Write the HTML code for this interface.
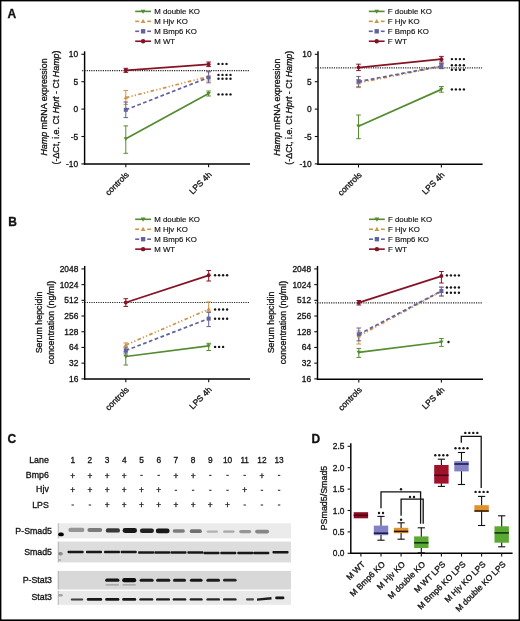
<!DOCTYPE html><html><head><meta charset="utf-8"><style>html,body{margin:0;padding:0;background:#fff}svg{display:block;will-change:transform;filter:blur(0.3px)}text{font-family:"Liberation Sans",sans-serif;stroke:#222;stroke-width:0.32px;paint-order:stroke}</style></head><body>
<svg width="520" height="621" viewBox="0 0 520 621">
<text x="7.6" y="17.8" font-size="12" text-anchor="start" font-weight="bold" fill="#111">A</text>
<text x="8.2" y="225.6" font-size="12" text-anchor="start" font-weight="bold" fill="#111">B</text>
<text x="7.6" y="443.2" font-size="12" text-anchor="start" font-weight="bold" fill="#111">C</text>
<text x="311.6" y="443" font-size="12" text-anchor="start" font-weight="bold" fill="#111">D</text>
<line x1="135.2" y1="11.4" x2="151" y2="11.4" stroke="#548c30" stroke-width="1.6" stroke-linecap="butt"/>
<path d="M140.68 9.64L145.52 9.64L143.1 13.82Z" fill="#548c30"/>
<text x="154.2" y="14.1" font-size="7.85" text-anchor="start" font-weight="normal" fill="#111" style="stroke-width:0.16px">M double KO</text>
<line x1="135.2" y1="21.35" x2="139.2" y2="21.35" stroke="#cf9446" stroke-width="1.6" stroke-linecap="butt"/>
<line x1="147.2" y1="21.35" x2="151" y2="21.35" stroke="#cf9446" stroke-width="1.6" stroke-linecap="butt"/>
<path d="M140.68 23.11L145.52 23.11L143.1 18.93Z" fill="#cf9446"/>
<text x="154.2" y="24.05" font-size="7.85" text-anchor="start" font-weight="normal" fill="#111" style="stroke-width:0.16px">M Hjv KO</text>
<line x1="135.2" y1="31.3" x2="139.2" y2="31.3" stroke="#62629e" stroke-width="1.6" stroke-linecap="butt"/>
<line x1="147.2" y1="31.3" x2="151" y2="31.3" stroke="#62629e" stroke-width="1.6" stroke-linecap="butt"/>
<rect x="140.9" y="29.1" width="4.4" height="4.4" fill="#62629e"/>
<text x="154.2" y="34" font-size="7.85" text-anchor="start" font-weight="normal" fill="#111" style="stroke-width:0.16px">M Bmp6 KO</text>
<line x1="135.2" y1="41.25" x2="151" y2="41.25" stroke="#861226" stroke-width="1.6" stroke-linecap="butt"/>
<circle cx="143.1" cy="41.25" r="2.2" fill="#861226"/>
<text x="154.2" y="43.95" font-size="7.85" text-anchor="start" font-weight="normal" fill="#111" style="stroke-width:0.16px">M WT</text>
<line x1="368.8" y1="11.4" x2="384.6" y2="11.4" stroke="#548c30" stroke-width="1.6" stroke-linecap="butt"/>
<path d="M374.28 9.64L379.12 9.64L376.7 13.82Z" fill="#548c30"/>
<text x="387.8" y="14.1" font-size="7.85" text-anchor="start" font-weight="normal" fill="#111" style="stroke-width:0.16px">F double KO</text>
<line x1="368.8" y1="21.35" x2="372.8" y2="21.35" stroke="#cf9446" stroke-width="1.6" stroke-linecap="butt"/>
<line x1="380.8" y1="21.35" x2="384.6" y2="21.35" stroke="#cf9446" stroke-width="1.6" stroke-linecap="butt"/>
<path d="M374.28 23.11L379.12 23.11L376.7 18.93Z" fill="#cf9446"/>
<text x="387.8" y="24.05" font-size="7.85" text-anchor="start" font-weight="normal" fill="#111" style="stroke-width:0.16px">F Hjv KO</text>
<line x1="368.8" y1="31.3" x2="372.8" y2="31.3" stroke="#62629e" stroke-width="1.6" stroke-linecap="butt"/>
<line x1="380.8" y1="31.3" x2="384.6" y2="31.3" stroke="#62629e" stroke-width="1.6" stroke-linecap="butt"/>
<rect x="374.5" y="29.1" width="4.4" height="4.4" fill="#62629e"/>
<text x="387.8" y="34" font-size="7.85" text-anchor="start" font-weight="normal" fill="#111" style="stroke-width:0.16px">F Bmp6 KO</text>
<line x1="368.8" y1="41.25" x2="384.6" y2="41.25" stroke="#861226" stroke-width="1.6" stroke-linecap="butt"/>
<circle cx="376.7" cy="41.25" r="2.2" fill="#861226"/>
<text x="387.8" y="43.95" font-size="7.85" text-anchor="start" font-weight="normal" fill="#111" style="stroke-width:0.16px">F WT</text>
<line x1="84.6" y1="51.3" x2="84.6" y2="164.7" stroke="#000" stroke-width="1.45" stroke-linecap="butt"/>
<line x1="83.9" y1="164" x2="250" y2="164" stroke="#000" stroke-width="1.45" stroke-linecap="butt"/>
<line x1="81.4" y1="54.3" x2="84.6" y2="54.3" stroke="#111" stroke-width="1.1" stroke-linecap="butt"/>
<text x="78.2" y="57.3" font-size="8.4" text-anchor="end" font-weight="normal" fill="#111">10</text>
<line x1="81.4" y1="81.7" x2="84.6" y2="81.7" stroke="#111" stroke-width="1.1" stroke-linecap="butt"/>
<text x="78.2" y="84.7" font-size="8.4" text-anchor="end" font-weight="normal" fill="#111">5</text>
<line x1="81.4" y1="109.1" x2="84.6" y2="109.1" stroke="#111" stroke-width="1.1" stroke-linecap="butt"/>
<text x="78.2" y="112.1" font-size="8.4" text-anchor="end" font-weight="normal" fill="#111">0</text>
<line x1="81.4" y1="136.5" x2="84.6" y2="136.5" stroke="#111" stroke-width="1.1" stroke-linecap="butt"/>
<text x="78.2" y="139.5" font-size="8.4" text-anchor="end" font-weight="normal" fill="#111">-5</text>
<line x1="81.4" y1="163.9" x2="84.6" y2="163.9" stroke="#111" stroke-width="1.1" stroke-linecap="butt"/>
<text x="78.2" y="166.9" font-size="8.4" text-anchor="end" font-weight="normal" fill="#111">-10</text>
<line x1="125.8" y1="164" x2="125.8" y2="167.2" stroke="#111" stroke-width="1.1" stroke-linecap="butt"/>
<line x1="208.6" y1="164" x2="208.6" y2="167.2" stroke="#111" stroke-width="1.1" stroke-linecap="butt"/>
<text x="129.4" y="175.2" font-size="8.4" text-anchor="end" font-weight="normal" transform="rotate(-45 129.4 175.2)" fill="#111">controls</text>
<text x="212.2" y="175.2" font-size="8.4" text-anchor="end" font-weight="normal" transform="rotate(-45 212.2 175.2)" fill="#111">LPS 4h</text>
<line x1="82.1" y1="70.6" x2="249.5" y2="70.6" stroke="#222" stroke-width="1.15" stroke-linecap="butt" stroke-dasharray="1.15 1.15"/>
<line x1="125.8" y1="125.9" x2="125.8" y2="153.3" stroke="#548c30" stroke-width="1" stroke-linecap="butt"/>
<line x1="123.5" y1="125.9" x2="128.1" y2="125.9" stroke="#548c30" stroke-width="1" stroke-linecap="butt"/>
<line x1="123.5" y1="153.3" x2="128.1" y2="153.3" stroke="#548c30" stroke-width="1" stroke-linecap="butt"/>
<line x1="208.6" y1="91" x2="208.6" y2="96" stroke="#548c30" stroke-width="1" stroke-linecap="butt"/>
<line x1="206.3" y1="91" x2="210.9" y2="91" stroke="#548c30" stroke-width="1" stroke-linecap="butt"/>
<line x1="206.3" y1="96" x2="210.9" y2="96" stroke="#548c30" stroke-width="1" stroke-linecap="butt"/>
<line x1="125.8" y1="90.5" x2="125.8" y2="104.4" stroke="#cf9446" stroke-width="1" stroke-linecap="butt"/>
<line x1="123.5" y1="90.5" x2="128.1" y2="90.5" stroke="#cf9446" stroke-width="1" stroke-linecap="butt"/>
<line x1="123.5" y1="104.4" x2="128.1" y2="104.4" stroke="#cf9446" stroke-width="1" stroke-linecap="butt"/>
<line x1="208.6" y1="72" x2="208.6" y2="81" stroke="#cf9446" stroke-width="1" stroke-linecap="butt"/>
<line x1="206.3" y1="72" x2="210.9" y2="72" stroke="#cf9446" stroke-width="1" stroke-linecap="butt"/>
<line x1="206.3" y1="81" x2="210.9" y2="81" stroke="#cf9446" stroke-width="1" stroke-linecap="butt"/>
<line x1="125.8" y1="102" x2="125.8" y2="117.6" stroke="#62629e" stroke-width="1" stroke-linecap="butt"/>
<line x1="123.5" y1="102" x2="128.1" y2="102" stroke="#62629e" stroke-width="1" stroke-linecap="butt"/>
<line x1="123.5" y1="117.6" x2="128.1" y2="117.6" stroke="#62629e" stroke-width="1" stroke-linecap="butt"/>
<line x1="208.6" y1="71.3" x2="208.6" y2="82.8" stroke="#62629e" stroke-width="1" stroke-linecap="butt"/>
<line x1="206.3" y1="71.3" x2="210.9" y2="71.3" stroke="#62629e" stroke-width="1" stroke-linecap="butt"/>
<line x1="206.3" y1="82.8" x2="210.9" y2="82.8" stroke="#62629e" stroke-width="1" stroke-linecap="butt"/>
<line x1="125.8" y1="68.3" x2="125.8" y2="72.4" stroke="#861226" stroke-width="1" stroke-linecap="butt"/>
<line x1="123.5" y1="68.3" x2="128.1" y2="68.3" stroke="#861226" stroke-width="1" stroke-linecap="butt"/>
<line x1="123.5" y1="72.4" x2="128.1" y2="72.4" stroke="#861226" stroke-width="1" stroke-linecap="butt"/>
<line x1="208.6" y1="62" x2="208.6" y2="66.6" stroke="#861226" stroke-width="1" stroke-linecap="butt"/>
<line x1="206.3" y1="62" x2="210.9" y2="62" stroke="#861226" stroke-width="1" stroke-linecap="butt"/>
<line x1="206.3" y1="66.6" x2="210.9" y2="66.6" stroke="#861226" stroke-width="1" stroke-linecap="butt"/>
<line x1="125.8" y1="138.8" x2="208.6" y2="93.5" stroke="#548c30" stroke-width="1.75" stroke-linecap="butt"/>
<path d="M123.6 137.2L128 137.2L125.8 141Z" fill="#548c30"/>
<path d="M206.4 91.9L210.8 91.9L208.6 95.7Z" fill="#548c30"/>
<line x1="125.8" y1="97.7" x2="208.6" y2="76.5" stroke="#cf9446" stroke-width="1.75" stroke-linecap="butt" stroke-dasharray="3.6 2.2 1.2 2.2 1.2 2.4"/>
<path d="M123.6 99.3L128 99.3L125.8 95.5Z" fill="#cf9446"/>
<path d="M206.4 78.1L210.8 78.1L208.6 74.3Z" fill="#cf9446"/>
<line x1="125.8" y1="109.8" x2="208.6" y2="77.5" stroke="#62629e" stroke-width="1.75" stroke-linecap="butt" stroke-dasharray="3.7 2.5"/>
<rect x="123.8" y="107.8" width="4" height="4" fill="#62629e"/>
<rect x="206.6" y="75.5" width="4" height="4" fill="#62629e"/>
<line x1="125.8" y1="70.3" x2="208.6" y2="64.3" stroke="#861226" stroke-width="1.75" stroke-linecap="butt"/>
<circle cx="125.8" cy="70.3" r="2" fill="#861226"/>
<circle cx="208.6" cy="64.3" r="2" fill="#861226"/>
<circle cx="218.5" cy="63.9" r="1.2" fill="#161616"/>
<circle cx="222.5" cy="63.9" r="1.2" fill="#161616"/>
<circle cx="226.5" cy="63.9" r="1.2" fill="#161616"/>
<circle cx="218.5" cy="74.9" r="1.2" fill="#161616"/>
<circle cx="222.5" cy="74.9" r="1.2" fill="#161616"/>
<circle cx="226.5" cy="74.9" r="1.2" fill="#161616"/>
<circle cx="230.5" cy="74.9" r="1.2" fill="#161616"/>
<circle cx="218.5" cy="78.8" r="1.2" fill="#161616"/>
<circle cx="222.5" cy="78.8" r="1.2" fill="#161616"/>
<circle cx="226.5" cy="78.8" r="1.2" fill="#161616"/>
<circle cx="230.5" cy="78.8" r="1.2" fill="#161616"/>
<circle cx="218.5" cy="94.4" r="1.2" fill="#161616"/>
<circle cx="222.5" cy="94.4" r="1.2" fill="#161616"/>
<circle cx="226.5" cy="94.4" r="1.2" fill="#161616"/>
<circle cx="230.5" cy="94.4" r="1.2" fill="#161616"/>
<text x="47.2" y="107" font-size="8.9" text-anchor="middle" transform="rotate(-90 47.2 107)" fill="#111"><tspan font-style="italic">Hamp</tspan> mRNA expression</text>
<text x="59.3" y="107.5" font-size="8.9" text-anchor="middle" font-weight="normal" transform="rotate(-90 59.3 107.5)" fill="#111">(-ΔCt, i.e. Ct <tspan font-style="italic">Hprt</tspan> - Ct <tspan font-style="italic">Hamp</tspan>)</text>
<line x1="318" y1="51.3" x2="318" y2="165" stroke="#000" stroke-width="1.45" stroke-linecap="butt"/>
<line x1="317.3" y1="164.3" x2="482.6" y2="164.3" stroke="#000" stroke-width="1.45" stroke-linecap="butt"/>
<line x1="314.8" y1="54.3" x2="318" y2="54.3" stroke="#111" stroke-width="1.1" stroke-linecap="butt"/>
<text x="311.6" y="57.3" font-size="8.4" text-anchor="end" font-weight="normal" fill="#111">10</text>
<line x1="314.8" y1="81.7" x2="318" y2="81.7" stroke="#111" stroke-width="1.1" stroke-linecap="butt"/>
<text x="311.6" y="84.7" font-size="8.4" text-anchor="end" font-weight="normal" fill="#111">5</text>
<line x1="314.8" y1="109.1" x2="318" y2="109.1" stroke="#111" stroke-width="1.1" stroke-linecap="butt"/>
<text x="311.6" y="112.1" font-size="8.4" text-anchor="end" font-weight="normal" fill="#111">0</text>
<line x1="314.8" y1="136.5" x2="318" y2="136.5" stroke="#111" stroke-width="1.1" stroke-linecap="butt"/>
<text x="311.6" y="139.5" font-size="8.4" text-anchor="end" font-weight="normal" fill="#111">-5</text>
<line x1="314.8" y1="163.9" x2="318" y2="163.9" stroke="#111" stroke-width="1.1" stroke-linecap="butt"/>
<text x="311.6" y="166.9" font-size="8.4" text-anchor="end" font-weight="normal" fill="#111">-10</text>
<line x1="358.5" y1="164.3" x2="358.5" y2="167.5" stroke="#111" stroke-width="1.1" stroke-linecap="butt"/>
<line x1="441.4" y1="164.3" x2="441.4" y2="167.5" stroke="#111" stroke-width="1.1" stroke-linecap="butt"/>
<text x="362.1" y="175.5" font-size="8.4" text-anchor="end" font-weight="normal" transform="rotate(-45 362.1 175.5)" fill="#111">controls</text>
<text x="445" y="175.5" font-size="8.4" text-anchor="end" font-weight="normal" transform="rotate(-45 445 175.5)" fill="#111">LPS 4h</text>
<line x1="315.5" y1="67.8" x2="482.1" y2="67.8" stroke="#222" stroke-width="1.15" stroke-linecap="butt" stroke-dasharray="1.15 1.15"/>
<line x1="358.5" y1="115" x2="358.5" y2="138.7" stroke="#548c30" stroke-width="1" stroke-linecap="butt"/>
<line x1="356.2" y1="115" x2="360.8" y2="115" stroke="#548c30" stroke-width="1" stroke-linecap="butt"/>
<line x1="356.2" y1="138.7" x2="360.8" y2="138.7" stroke="#548c30" stroke-width="1" stroke-linecap="butt"/>
<line x1="441.4" y1="86.5" x2="441.4" y2="92.2" stroke="#548c30" stroke-width="1" stroke-linecap="butt"/>
<line x1="439.1" y1="86.5" x2="443.7" y2="86.5" stroke="#548c30" stroke-width="1" stroke-linecap="butt"/>
<line x1="439.1" y1="92.2" x2="443.7" y2="92.2" stroke="#548c30" stroke-width="1" stroke-linecap="butt"/>
<line x1="358.5" y1="79.5" x2="358.5" y2="87.6" stroke="#cf9446" stroke-width="1" stroke-linecap="butt"/>
<line x1="356.2" y1="79.5" x2="360.8" y2="79.5" stroke="#cf9446" stroke-width="1" stroke-linecap="butt"/>
<line x1="356.2" y1="87.6" x2="360.8" y2="87.6" stroke="#cf9446" stroke-width="1" stroke-linecap="butt"/>
<line x1="441.4" y1="64" x2="441.4" y2="68.8" stroke="#cf9446" stroke-width="1" stroke-linecap="butt"/>
<line x1="439.1" y1="64" x2="443.7" y2="64" stroke="#cf9446" stroke-width="1" stroke-linecap="butt"/>
<line x1="439.1" y1="68.8" x2="443.7" y2="68.8" stroke="#cf9446" stroke-width="1" stroke-linecap="butt"/>
<line x1="358.5" y1="76.4" x2="358.5" y2="86.8" stroke="#62629e" stroke-width="1" stroke-linecap="butt"/>
<line x1="356.2" y1="76.4" x2="360.8" y2="76.4" stroke="#62629e" stroke-width="1" stroke-linecap="butt"/>
<line x1="356.2" y1="86.8" x2="360.8" y2="86.8" stroke="#62629e" stroke-width="1" stroke-linecap="butt"/>
<line x1="441.4" y1="63.5" x2="441.4" y2="68.5" stroke="#62629e" stroke-width="1" stroke-linecap="butt"/>
<line x1="439.1" y1="63.5" x2="443.7" y2="63.5" stroke="#62629e" stroke-width="1" stroke-linecap="butt"/>
<line x1="439.1" y1="68.5" x2="443.7" y2="68.5" stroke="#62629e" stroke-width="1" stroke-linecap="butt"/>
<line x1="358.5" y1="64.2" x2="358.5" y2="70.6" stroke="#861226" stroke-width="1" stroke-linecap="butt"/>
<line x1="356.2" y1="64.2" x2="360.8" y2="64.2" stroke="#861226" stroke-width="1" stroke-linecap="butt"/>
<line x1="356.2" y1="70.6" x2="360.8" y2="70.6" stroke="#861226" stroke-width="1" stroke-linecap="butt"/>
<line x1="441.4" y1="56.4" x2="441.4" y2="62" stroke="#861226" stroke-width="1" stroke-linecap="butt"/>
<line x1="439.1" y1="56.4" x2="443.7" y2="56.4" stroke="#861226" stroke-width="1" stroke-linecap="butt"/>
<line x1="439.1" y1="62" x2="443.7" y2="62" stroke="#861226" stroke-width="1" stroke-linecap="butt"/>
<line x1="358.5" y1="126.2" x2="441.4" y2="89.4" stroke="#548c30" stroke-width="1.75" stroke-linecap="butt"/>
<path d="M356.3 124.6L360.7 124.6L358.5 128.4Z" fill="#548c30"/>
<path d="M439.2 87.8L443.6 87.8L441.4 91.6Z" fill="#548c30"/>
<line x1="358.5" y1="82.8" x2="441.4" y2="66.4" stroke="#cf9446" stroke-width="1.75" stroke-linecap="butt" stroke-dasharray="3.6 2.2 1.2 2.2 1.2 2.4"/>
<path d="M356.3 84.4L360.7 84.4L358.5 80.6Z" fill="#cf9446"/>
<path d="M439.2 68L443.6 68L441.4 64.2Z" fill="#cf9446"/>
<line x1="358.5" y1="81.6" x2="441.4" y2="66.1" stroke="#62629e" stroke-width="1.75" stroke-linecap="butt" stroke-dasharray="3.7 2.5"/>
<rect x="356.5" y="79.6" width="4" height="4" fill="#62629e"/>
<rect x="439.4" y="64.1" width="4" height="4" fill="#62629e"/>
<line x1="358.5" y1="67.6" x2="441.4" y2="59.2" stroke="#861226" stroke-width="1.75" stroke-linecap="butt"/>
<circle cx="358.5" cy="67.6" r="2" fill="#861226"/>
<circle cx="441.4" cy="59.2" r="2" fill="#861226"/>
<circle cx="451.9" cy="59.1" r="1.2" fill="#161616"/>
<circle cx="455.9" cy="59.1" r="1.2" fill="#161616"/>
<circle cx="459.9" cy="59.1" r="1.2" fill="#161616"/>
<circle cx="463.9" cy="59.1" r="1.2" fill="#161616"/>
<circle cx="451.9" cy="65.2" r="1.2" fill="#161616"/>
<circle cx="455.9" cy="65.2" r="1.2" fill="#161616"/>
<circle cx="459.9" cy="65.2" r="1.2" fill="#161616"/>
<circle cx="463.9" cy="65.2" r="1.2" fill="#161616"/>
<circle cx="451.9" cy="69.7" r="1.2" fill="#161616"/>
<circle cx="455.9" cy="69.7" r="1.2" fill="#161616"/>
<circle cx="459.9" cy="69.7" r="1.2" fill="#161616"/>
<circle cx="463.9" cy="69.7" r="1.2" fill="#161616"/>
<circle cx="451.9" cy="89.4" r="1.2" fill="#161616"/>
<circle cx="455.9" cy="89.4" r="1.2" fill="#161616"/>
<circle cx="459.9" cy="89.4" r="1.2" fill="#161616"/>
<circle cx="463.9" cy="89.4" r="1.2" fill="#161616"/>
<text x="280.4" y="107.2" font-size="8.9" text-anchor="middle" transform="rotate(-90 280.4 107.2)" fill="#111"><tspan font-style="italic">Hamp</tspan> mRNA expression</text>
<text x="292.5" y="107.7" font-size="8.9" text-anchor="middle" font-weight="normal" transform="rotate(-90 292.5 107.7)" fill="#111">(-ΔCt, i.e. Ct <tspan font-style="italic">Hprt</tspan> - Ct <tspan font-style="italic">Hamp</tspan>)</text>
<line x1="135.2" y1="219.3" x2="151" y2="219.3" stroke="#548c30" stroke-width="1.6" stroke-linecap="butt"/>
<path d="M140.68 217.54L145.52 217.54L143.1 221.72Z" fill="#548c30"/>
<text x="154.2" y="222" font-size="7.85" text-anchor="start" font-weight="normal" fill="#111" style="stroke-width:0.16px">M double KO</text>
<line x1="135.2" y1="229.25" x2="139.2" y2="229.25" stroke="#cf9446" stroke-width="1.6" stroke-linecap="butt"/>
<line x1="147.2" y1="229.25" x2="151" y2="229.25" stroke="#cf9446" stroke-width="1.6" stroke-linecap="butt"/>
<path d="M140.68 231.01L145.52 231.01L143.1 226.83Z" fill="#cf9446"/>
<text x="154.2" y="231.95" font-size="7.85" text-anchor="start" font-weight="normal" fill="#111" style="stroke-width:0.16px">M Hjv KO</text>
<line x1="135.2" y1="239.2" x2="139.2" y2="239.2" stroke="#62629e" stroke-width="1.6" stroke-linecap="butt"/>
<line x1="147.2" y1="239.2" x2="151" y2="239.2" stroke="#62629e" stroke-width="1.6" stroke-linecap="butt"/>
<rect x="140.9" y="237" width="4.4" height="4.4" fill="#62629e"/>
<text x="154.2" y="241.9" font-size="7.85" text-anchor="start" font-weight="normal" fill="#111" style="stroke-width:0.16px">M Bmp6 KO</text>
<line x1="135.2" y1="249.15" x2="151" y2="249.15" stroke="#861226" stroke-width="1.6" stroke-linecap="butt"/>
<circle cx="143.1" cy="249.15" r="2.2" fill="#861226"/>
<text x="154.2" y="251.85" font-size="7.85" text-anchor="start" font-weight="normal" fill="#111" style="stroke-width:0.16px">M WT</text>
<line x1="369" y1="219.3" x2="384.8" y2="219.3" stroke="#548c30" stroke-width="1.6" stroke-linecap="butt"/>
<path d="M374.48 217.54L379.32 217.54L376.9 221.72Z" fill="#548c30"/>
<text x="388" y="222" font-size="7.85" text-anchor="start" font-weight="normal" fill="#111" style="stroke-width:0.16px">F double KO</text>
<line x1="369" y1="229.25" x2="373" y2="229.25" stroke="#cf9446" stroke-width="1.6" stroke-linecap="butt"/>
<line x1="381" y1="229.25" x2="384.8" y2="229.25" stroke="#cf9446" stroke-width="1.6" stroke-linecap="butt"/>
<path d="M374.48 231.01L379.32 231.01L376.9 226.83Z" fill="#cf9446"/>
<text x="388" y="231.95" font-size="7.85" text-anchor="start" font-weight="normal" fill="#111" style="stroke-width:0.16px">F Hjv KO</text>
<line x1="369" y1="239.2" x2="373" y2="239.2" stroke="#62629e" stroke-width="1.6" stroke-linecap="butt"/>
<line x1="381" y1="239.2" x2="384.8" y2="239.2" stroke="#62629e" stroke-width="1.6" stroke-linecap="butt"/>
<rect x="374.7" y="237" width="4.4" height="4.4" fill="#62629e"/>
<text x="388" y="241.9" font-size="7.85" text-anchor="start" font-weight="normal" fill="#111" style="stroke-width:0.16px">F Bmp6 KO</text>
<line x1="369" y1="249.15" x2="384.8" y2="249.15" stroke="#861226" stroke-width="1.6" stroke-linecap="butt"/>
<circle cx="376.9" cy="249.15" r="2.2" fill="#861226"/>
<text x="388" y="251.85" font-size="7.85" text-anchor="start" font-weight="normal" fill="#111" style="stroke-width:0.16px">F WT</text>
<line x1="84.7" y1="265.9" x2="84.7" y2="379.7" stroke="#000" stroke-width="1.45" stroke-linecap="butt"/>
<line x1="84" y1="379" x2="250" y2="379" stroke="#000" stroke-width="1.45" stroke-linecap="butt"/>
<line x1="81.5" y1="268.9" x2="84.7" y2="268.9" stroke="#111" stroke-width="1.1" stroke-linecap="butt"/>
<text x="78.3" y="271.9" font-size="8.4" text-anchor="end" font-weight="normal" fill="#111">2048</text>
<line x1="81.5" y1="284.61" x2="84.7" y2="284.61" stroke="#111" stroke-width="1.1" stroke-linecap="butt"/>
<text x="78.3" y="287.61" font-size="8.4" text-anchor="end" font-weight="normal" fill="#111">1024</text>
<line x1="81.5" y1="300.32" x2="84.7" y2="300.32" stroke="#111" stroke-width="1.1" stroke-linecap="butt"/>
<text x="78.3" y="303.32" font-size="8.4" text-anchor="end" font-weight="normal" fill="#111">512</text>
<line x1="81.5" y1="316.03" x2="84.7" y2="316.03" stroke="#111" stroke-width="1.1" stroke-linecap="butt"/>
<text x="78.3" y="319.03" font-size="8.4" text-anchor="end" font-weight="normal" fill="#111">256</text>
<line x1="81.5" y1="331.74" x2="84.7" y2="331.74" stroke="#111" stroke-width="1.1" stroke-linecap="butt"/>
<text x="78.3" y="334.74" font-size="8.4" text-anchor="end" font-weight="normal" fill="#111">128</text>
<line x1="81.5" y1="347.45" x2="84.7" y2="347.45" stroke="#111" stroke-width="1.1" stroke-linecap="butt"/>
<text x="78.3" y="350.45" font-size="8.4" text-anchor="end" font-weight="normal" fill="#111">64</text>
<line x1="81.5" y1="363.16" x2="84.7" y2="363.16" stroke="#111" stroke-width="1.1" stroke-linecap="butt"/>
<text x="78.3" y="366.16" font-size="8.4" text-anchor="end" font-weight="normal" fill="#111">32</text>
<line x1="81.5" y1="378.87" x2="84.7" y2="378.87" stroke="#111" stroke-width="1.1" stroke-linecap="butt"/>
<text x="78.3" y="381.87" font-size="8.4" text-anchor="end" font-weight="normal" fill="#111">16</text>
<line x1="125.8" y1="379" x2="125.8" y2="382.2" stroke="#111" stroke-width="1.1" stroke-linecap="butt"/>
<line x1="208.7" y1="379" x2="208.7" y2="382.2" stroke="#111" stroke-width="1.1" stroke-linecap="butt"/>
<text x="129.4" y="390.2" font-size="8.4" text-anchor="end" font-weight="normal" transform="rotate(-45 129.4 390.2)" fill="#111">controls</text>
<text x="212.3" y="390.2" font-size="8.4" text-anchor="end" font-weight="normal" transform="rotate(-45 212.3 390.2)" fill="#111">LPS 4h</text>
<line x1="82.2" y1="302.5" x2="249.5" y2="302.5" stroke="#222" stroke-width="1.15" stroke-linecap="butt" stroke-dasharray="1.15 1.15"/>
<line x1="125.8" y1="352" x2="125.8" y2="365" stroke="#548c30" stroke-width="1" stroke-linecap="butt"/>
<line x1="123.5" y1="352" x2="128.1" y2="352" stroke="#548c30" stroke-width="1" stroke-linecap="butt"/>
<line x1="123.5" y1="365" x2="128.1" y2="365" stroke="#548c30" stroke-width="1" stroke-linecap="butt"/>
<line x1="208.7" y1="343.3" x2="208.7" y2="350.5" stroke="#548c30" stroke-width="1" stroke-linecap="butt"/>
<line x1="206.4" y1="343.3" x2="211" y2="343.3" stroke="#548c30" stroke-width="1" stroke-linecap="butt"/>
<line x1="206.4" y1="350.5" x2="211" y2="350.5" stroke="#548c30" stroke-width="1" stroke-linecap="butt"/>
<line x1="125.8" y1="342.9" x2="125.8" y2="348" stroke="#cf9446" stroke-width="1" stroke-linecap="butt"/>
<line x1="123.5" y1="342.9" x2="128.1" y2="342.9" stroke="#cf9446" stroke-width="1" stroke-linecap="butt"/>
<line x1="123.5" y1="348" x2="128.1" y2="348" stroke="#cf9446" stroke-width="1" stroke-linecap="butt"/>
<line x1="208.7" y1="301.9" x2="208.7" y2="311.3" stroke="#cf9446" stroke-width="1" stroke-linecap="butt"/>
<line x1="206.4" y1="301.9" x2="211" y2="301.9" stroke="#cf9446" stroke-width="1" stroke-linecap="butt"/>
<line x1="206.4" y1="311.3" x2="211" y2="311.3" stroke="#cf9446" stroke-width="1" stroke-linecap="butt"/>
<line x1="125.8" y1="347" x2="125.8" y2="354" stroke="#62629e" stroke-width="1" stroke-linecap="butt"/>
<line x1="123.5" y1="347" x2="128.1" y2="347" stroke="#62629e" stroke-width="1" stroke-linecap="butt"/>
<line x1="123.5" y1="354" x2="128.1" y2="354" stroke="#62629e" stroke-width="1" stroke-linecap="butt"/>
<line x1="208.7" y1="312.4" x2="208.7" y2="326.6" stroke="#62629e" stroke-width="1" stroke-linecap="butt"/>
<line x1="206.4" y1="312.4" x2="211" y2="312.4" stroke="#62629e" stroke-width="1" stroke-linecap="butt"/>
<line x1="206.4" y1="326.6" x2="211" y2="326.6" stroke="#62629e" stroke-width="1" stroke-linecap="butt"/>
<line x1="125.8" y1="298.7" x2="125.8" y2="306.4" stroke="#861226" stroke-width="1" stroke-linecap="butt"/>
<line x1="123.5" y1="298.7" x2="128.1" y2="298.7" stroke="#861226" stroke-width="1" stroke-linecap="butt"/>
<line x1="123.5" y1="306.4" x2="128.1" y2="306.4" stroke="#861226" stroke-width="1" stroke-linecap="butt"/>
<line x1="208.7" y1="270.5" x2="208.7" y2="281" stroke="#861226" stroke-width="1" stroke-linecap="butt"/>
<line x1="206.4" y1="270.5" x2="211" y2="270.5" stroke="#861226" stroke-width="1" stroke-linecap="butt"/>
<line x1="206.4" y1="281" x2="211" y2="281" stroke="#861226" stroke-width="1" stroke-linecap="butt"/>
<line x1="125.8" y1="356.5" x2="208.7" y2="345.9" stroke="#548c30" stroke-width="1.75" stroke-linecap="butt"/>
<path d="M123.6 354.9L128 354.9L125.8 358.7Z" fill="#548c30"/>
<path d="M206.5 344.3L210.9 344.3L208.7 348.1Z" fill="#548c30"/>
<line x1="125.8" y1="345" x2="208.7" y2="309.2" stroke="#cf9446" stroke-width="1.75" stroke-linecap="butt" stroke-dasharray="3.6 2.2 1.2 2.2 1.2 2.4"/>
<path d="M123.6 346.6L128 346.6L125.8 342.8Z" fill="#cf9446"/>
<path d="M206.5 310.8L210.9 310.8L208.7 307Z" fill="#cf9446"/>
<line x1="125.8" y1="350.5" x2="208.7" y2="318.6" stroke="#62629e" stroke-width="1.75" stroke-linecap="butt" stroke-dasharray="3.7 2.5"/>
<rect x="123.8" y="348.5" width="4" height="4" fill="#62629e"/>
<rect x="206.7" y="316.6" width="4" height="4" fill="#62629e"/>
<line x1="125.8" y1="302.5" x2="208.7" y2="275.3" stroke="#861226" stroke-width="1.75" stroke-linecap="butt"/>
<circle cx="125.8" cy="302.5" r="2" fill="#861226"/>
<circle cx="208.7" cy="275.3" r="2" fill="#861226"/>
<circle cx="215.1" cy="275.3" r="1.2" fill="#161616"/>
<circle cx="219.1" cy="275.3" r="1.2" fill="#161616"/>
<circle cx="223.1" cy="275.3" r="1.2" fill="#161616"/>
<circle cx="227.1" cy="275.3" r="1.2" fill="#161616"/>
<circle cx="215.1" cy="309.5" r="1.2" fill="#161616"/>
<circle cx="219.1" cy="309.5" r="1.2" fill="#161616"/>
<circle cx="223.1" cy="309.5" r="1.2" fill="#161616"/>
<circle cx="227.1" cy="309.5" r="1.2" fill="#161616"/>
<circle cx="215.1" cy="318.8" r="1.2" fill="#161616"/>
<circle cx="219.1" cy="318.8" r="1.2" fill="#161616"/>
<circle cx="223.1" cy="318.8" r="1.2" fill="#161616"/>
<circle cx="227.1" cy="318.8" r="1.2" fill="#161616"/>
<circle cx="215.1" cy="346.9" r="1.2" fill="#161616"/>
<circle cx="219.1" cy="346.9" r="1.2" fill="#161616"/>
<circle cx="223.1" cy="346.9" r="1.2" fill="#161616"/>
<text x="41.6" y="322.5" font-size="8.9" text-anchor="middle" font-weight="normal" transform="rotate(-90 41.6 322.5)" fill="#111">Serum hepcidin</text>
<text x="53.5" y="322.5" font-size="8.9" text-anchor="middle" font-weight="normal" transform="rotate(-90 53.5 322.5)" fill="#111">concentration (ng/ml)</text>
<line x1="317.5" y1="265.9" x2="317.5" y2="379.9" stroke="#000" stroke-width="1.45" stroke-linecap="butt"/>
<line x1="316.8" y1="379.2" x2="483" y2="379.2" stroke="#000" stroke-width="1.45" stroke-linecap="butt"/>
<line x1="314.3" y1="268.9" x2="317.5" y2="268.9" stroke="#111" stroke-width="1.1" stroke-linecap="butt"/>
<text x="311.1" y="271.9" font-size="8.4" text-anchor="end" font-weight="normal" fill="#111">2048</text>
<line x1="314.3" y1="284.61" x2="317.5" y2="284.61" stroke="#111" stroke-width="1.1" stroke-linecap="butt"/>
<text x="311.1" y="287.61" font-size="8.4" text-anchor="end" font-weight="normal" fill="#111">1024</text>
<line x1="314.3" y1="300.32" x2="317.5" y2="300.32" stroke="#111" stroke-width="1.1" stroke-linecap="butt"/>
<text x="311.1" y="303.32" font-size="8.4" text-anchor="end" font-weight="normal" fill="#111">512</text>
<line x1="314.3" y1="316.03" x2="317.5" y2="316.03" stroke="#111" stroke-width="1.1" stroke-linecap="butt"/>
<text x="311.1" y="319.03" font-size="8.4" text-anchor="end" font-weight="normal" fill="#111">256</text>
<line x1="314.3" y1="331.74" x2="317.5" y2="331.74" stroke="#111" stroke-width="1.1" stroke-linecap="butt"/>
<text x="311.1" y="334.74" font-size="8.4" text-anchor="end" font-weight="normal" fill="#111">128</text>
<line x1="314.3" y1="347.45" x2="317.5" y2="347.45" stroke="#111" stroke-width="1.1" stroke-linecap="butt"/>
<text x="311.1" y="350.45" font-size="8.4" text-anchor="end" font-weight="normal" fill="#111">64</text>
<line x1="314.3" y1="363.16" x2="317.5" y2="363.16" stroke="#111" stroke-width="1.1" stroke-linecap="butt"/>
<text x="311.1" y="366.16" font-size="8.4" text-anchor="end" font-weight="normal" fill="#111">32</text>
<line x1="314.3" y1="378.87" x2="317.5" y2="378.87" stroke="#111" stroke-width="1.1" stroke-linecap="butt"/>
<text x="311.1" y="381.87" font-size="8.4" text-anchor="end" font-weight="normal" fill="#111">16</text>
<line x1="358.8" y1="379.2" x2="358.8" y2="382.4" stroke="#111" stroke-width="1.1" stroke-linecap="butt"/>
<line x1="441.4" y1="379.2" x2="441.4" y2="382.4" stroke="#111" stroke-width="1.1" stroke-linecap="butt"/>
<text x="362.4" y="390.4" font-size="8.4" text-anchor="end" font-weight="normal" transform="rotate(-45 362.4 390.4)" fill="#111">controls</text>
<text x="445" y="390.4" font-size="8.4" text-anchor="end" font-weight="normal" transform="rotate(-45 445 390.4)" fill="#111">LPS 4h</text>
<line x1="315" y1="302.9" x2="482.5" y2="302.9" stroke="#222" stroke-width="1.15" stroke-linecap="butt" stroke-dasharray="1.15 1.15"/>
<line x1="358.8" y1="348.4" x2="358.8" y2="357.4" stroke="#548c30" stroke-width="1" stroke-linecap="butt"/>
<line x1="356.5" y1="348.4" x2="361.1" y2="348.4" stroke="#548c30" stroke-width="1" stroke-linecap="butt"/>
<line x1="356.5" y1="357.4" x2="361.1" y2="357.4" stroke="#548c30" stroke-width="1" stroke-linecap="butt"/>
<line x1="441.4" y1="338.5" x2="441.4" y2="346.4" stroke="#548c30" stroke-width="1" stroke-linecap="butt"/>
<line x1="439.1" y1="338.5" x2="443.7" y2="338.5" stroke="#548c30" stroke-width="1" stroke-linecap="butt"/>
<line x1="439.1" y1="346.4" x2="443.7" y2="346.4" stroke="#548c30" stroke-width="1" stroke-linecap="butt"/>
<line x1="358.8" y1="331" x2="358.8" y2="344" stroke="#cf9446" stroke-width="1" stroke-linecap="butt"/>
<line x1="356.5" y1="331" x2="361.1" y2="331" stroke="#cf9446" stroke-width="1" stroke-linecap="butt"/>
<line x1="356.5" y1="344" x2="361.1" y2="344" stroke="#cf9446" stroke-width="1" stroke-linecap="butt"/>
<line x1="441.4" y1="287" x2="441.4" y2="296" stroke="#cf9446" stroke-width="1" stroke-linecap="butt"/>
<line x1="439.1" y1="287" x2="443.7" y2="287" stroke="#cf9446" stroke-width="1" stroke-linecap="butt"/>
<line x1="439.1" y1="296" x2="443.7" y2="296" stroke="#cf9446" stroke-width="1" stroke-linecap="butt"/>
<line x1="358.8" y1="328" x2="358.8" y2="340.8" stroke="#62629e" stroke-width="1" stroke-linecap="butt"/>
<line x1="356.5" y1="328" x2="361.1" y2="328" stroke="#62629e" stroke-width="1" stroke-linecap="butt"/>
<line x1="356.5" y1="340.8" x2="361.1" y2="340.8" stroke="#62629e" stroke-width="1" stroke-linecap="butt"/>
<line x1="441.4" y1="287.2" x2="441.4" y2="296" stroke="#62629e" stroke-width="1" stroke-linecap="butt"/>
<line x1="439.1" y1="287.2" x2="443.7" y2="287.2" stroke="#62629e" stroke-width="1" stroke-linecap="butt"/>
<line x1="439.1" y1="296" x2="443.7" y2="296" stroke="#62629e" stroke-width="1" stroke-linecap="butt"/>
<line x1="358.8" y1="300.5" x2="358.8" y2="305" stroke="#861226" stroke-width="1" stroke-linecap="butt"/>
<line x1="356.5" y1="300.5" x2="361.1" y2="300.5" stroke="#861226" stroke-width="1" stroke-linecap="butt"/>
<line x1="356.5" y1="305" x2="361.1" y2="305" stroke="#861226" stroke-width="1" stroke-linecap="butt"/>
<line x1="441.4" y1="271.5" x2="441.4" y2="283" stroke="#861226" stroke-width="1" stroke-linecap="butt"/>
<line x1="439.1" y1="271.5" x2="443.7" y2="271.5" stroke="#861226" stroke-width="1" stroke-linecap="butt"/>
<line x1="439.1" y1="283" x2="443.7" y2="283" stroke="#861226" stroke-width="1" stroke-linecap="butt"/>
<line x1="358.8" y1="352.3" x2="441.4" y2="342" stroke="#548c30" stroke-width="1.75" stroke-linecap="butt"/>
<path d="M356.6 350.7L361 350.7L358.8 354.5Z" fill="#548c30"/>
<path d="M439.2 340.4L443.6 340.4L441.4 344.2Z" fill="#548c30"/>
<line x1="358.8" y1="336" x2="441.4" y2="291.4" stroke="#cf9446" stroke-width="1.75" stroke-linecap="butt" stroke-dasharray="3.6 2.2 1.2 2.2 1.2 2.4"/>
<path d="M356.6 337.6L361 337.6L358.8 333.8Z" fill="#cf9446"/>
<path d="M439.2 293L443.6 293L441.4 289.2Z" fill="#cf9446"/>
<line x1="358.8" y1="334.3" x2="441.4" y2="291" stroke="#62629e" stroke-width="1.75" stroke-linecap="butt" stroke-dasharray="3.7 2.5"/>
<rect x="356.8" y="332.3" width="4" height="4" fill="#62629e"/>
<rect x="439.4" y="289" width="4" height="4" fill="#62629e"/>
<line x1="358.8" y1="302.7" x2="441.4" y2="276.1" stroke="#861226" stroke-width="1.75" stroke-linecap="butt"/>
<circle cx="358.8" cy="302.7" r="2" fill="#861226"/>
<circle cx="441.4" cy="276.1" r="2" fill="#861226"/>
<circle cx="446.9" cy="275.4" r="1.2" fill="#161616"/>
<circle cx="450.9" cy="275.4" r="1.2" fill="#161616"/>
<circle cx="454.9" cy="275.4" r="1.2" fill="#161616"/>
<circle cx="458.9" cy="275.4" r="1.2" fill="#161616"/>
<circle cx="446.9" cy="287.5" r="1.2" fill="#161616"/>
<circle cx="450.9" cy="287.5" r="1.2" fill="#161616"/>
<circle cx="454.9" cy="287.5" r="1.2" fill="#161616"/>
<circle cx="458.9" cy="287.5" r="1.2" fill="#161616"/>
<circle cx="446.9" cy="292.8" r="1.2" fill="#161616"/>
<circle cx="450.9" cy="292.8" r="1.2" fill="#161616"/>
<circle cx="454.9" cy="292.8" r="1.2" fill="#161616"/>
<circle cx="458.9" cy="292.8" r="1.2" fill="#161616"/>
<circle cx="448.5" cy="342" r="1.2" fill="#161616"/>
<text x="274.3" y="322.5" font-size="8.9" text-anchor="middle" font-weight="normal" transform="rotate(-90 274.3 322.5)" fill="#111">Serum hepcidin</text>
<text x="286.3" y="322.5" font-size="8.9" text-anchor="middle" font-weight="normal" transform="rotate(-90 286.3 322.5)" fill="#111">concentration (ng/ml)</text>
<text x="48.8" y="463.1" font-size="8.8" text-anchor="end" font-weight="normal" fill="#111">Lane</text>
<text x="48.8" y="477.7" font-size="8.8" text-anchor="end" font-weight="normal" fill="#111">Bmp6</text>
<text x="48.8" y="492.4" font-size="8.8" text-anchor="end" font-weight="normal" fill="#111">Hjv</text>
<text x="48.8" y="507.6" font-size="8.8" text-anchor="end" font-weight="normal" fill="#111">LPS</text>
<text x="72.7" y="462.9" font-size="8.3" text-anchor="middle" font-weight="normal" fill="#111">1</text>
<text x="72.7" y="478.5" font-size="8.3" text-anchor="middle" font-weight="normal" fill="#111">+</text>
<text x="72.7" y="493.4" font-size="8.3" text-anchor="middle" font-weight="normal" fill="#111">+</text>
<rect x="71.5" y="504.45" width="2.4" height="1.1" fill="#333"/>
<text x="89.9" y="462.9" font-size="8.3" text-anchor="middle" font-weight="normal" fill="#111">2</text>
<text x="89.9" y="478.5" font-size="8.3" text-anchor="middle" font-weight="normal" fill="#111">+</text>
<text x="89.9" y="493.4" font-size="8.3" text-anchor="middle" font-weight="normal" fill="#111">+</text>
<rect x="88.7" y="504.45" width="2.4" height="1.1" fill="#333"/>
<text x="107.1" y="462.9" font-size="8.3" text-anchor="middle" font-weight="normal" fill="#111">3</text>
<text x="107.1" y="478.5" font-size="8.3" text-anchor="middle" font-weight="normal" fill="#111">+</text>
<text x="107.1" y="493.4" font-size="8.3" text-anchor="middle" font-weight="normal" fill="#111">+</text>
<text x="107.1" y="508.1" font-size="8.3" text-anchor="middle" font-weight="normal" fill="#111">+</text>
<text x="124.3" y="462.9" font-size="8.3" text-anchor="middle" font-weight="normal" fill="#111">4</text>
<text x="124.3" y="478.5" font-size="8.3" text-anchor="middle" font-weight="normal" fill="#111">+</text>
<text x="124.3" y="493.4" font-size="8.3" text-anchor="middle" font-weight="normal" fill="#111">+</text>
<text x="124.3" y="508.1" font-size="8.3" text-anchor="middle" font-weight="normal" fill="#111">+</text>
<text x="141.5" y="462.9" font-size="8.3" text-anchor="middle" font-weight="normal" fill="#111">5</text>
<rect x="140.3" y="474.85" width="2.4" height="1.1" fill="#333"/>
<text x="141.5" y="493.4" font-size="8.3" text-anchor="middle" font-weight="normal" fill="#111">+</text>
<text x="141.5" y="508.1" font-size="8.3" text-anchor="middle" font-weight="normal" fill="#111">+</text>
<text x="158.7" y="462.9" font-size="8.3" text-anchor="middle" font-weight="normal" fill="#111">6</text>
<rect x="157.5" y="474.85" width="2.4" height="1.1" fill="#333"/>
<text x="158.7" y="493.4" font-size="8.3" text-anchor="middle" font-weight="normal" fill="#111">+</text>
<text x="158.7" y="508.1" font-size="8.3" text-anchor="middle" font-weight="normal" fill="#111">+</text>
<text x="175.9" y="462.9" font-size="8.3" text-anchor="middle" font-weight="normal" fill="#111">7</text>
<text x="175.9" y="478.5" font-size="8.3" text-anchor="middle" font-weight="normal" fill="#111">+</text>
<rect x="174.7" y="489.75" width="2.4" height="1.1" fill="#333"/>
<text x="175.9" y="508.1" font-size="8.3" text-anchor="middle" font-weight="normal" fill="#111">+</text>
<text x="193.1" y="462.9" font-size="8.3" text-anchor="middle" font-weight="normal" fill="#111">8</text>
<text x="193.1" y="478.5" font-size="8.3" text-anchor="middle" font-weight="normal" fill="#111">+</text>
<rect x="191.9" y="489.75" width="2.4" height="1.1" fill="#333"/>
<text x="193.1" y="508.1" font-size="8.3" text-anchor="middle" font-weight="normal" fill="#111">+</text>
<text x="210.3" y="462.9" font-size="8.3" text-anchor="middle" font-weight="normal" fill="#111">9</text>
<rect x="209.1" y="474.85" width="2.4" height="1.1" fill="#333"/>
<rect x="209.1" y="489.75" width="2.4" height="1.1" fill="#333"/>
<text x="210.3" y="508.1" font-size="8.3" text-anchor="middle" font-weight="normal" fill="#111">+</text>
<text x="227.5" y="462.9" font-size="8.3" text-anchor="middle" font-weight="normal" fill="#111">10</text>
<rect x="226.3" y="474.85" width="2.4" height="1.1" fill="#333"/>
<rect x="226.3" y="489.75" width="2.4" height="1.1" fill="#333"/>
<text x="227.5" y="508.1" font-size="8.3" text-anchor="middle" font-weight="normal" fill="#111">+</text>
<text x="244.7" y="462.9" font-size="8.3" text-anchor="middle" font-weight="normal" fill="#111">11</text>
<rect x="243.5" y="474.85" width="2.4" height="1.1" fill="#333"/>
<text x="244.7" y="493.4" font-size="8.3" text-anchor="middle" font-weight="normal" fill="#111">+</text>
<rect x="243.5" y="504.45" width="2.4" height="1.1" fill="#333"/>
<text x="261.9" y="462.9" font-size="8.3" text-anchor="middle" font-weight="normal" fill="#111">12</text>
<text x="261.9" y="478.5" font-size="8.3" text-anchor="middle" font-weight="normal" fill="#111">+</text>
<rect x="260.7" y="489.75" width="2.4" height="1.1" fill="#333"/>
<rect x="260.7" y="504.45" width="2.4" height="1.1" fill="#333"/>
<text x="279.1" y="462.9" font-size="8.3" text-anchor="middle" font-weight="normal" fill="#111">13</text>
<rect x="277.9" y="474.85" width="2.4" height="1.1" fill="#333"/>
<rect x="277.9" y="489.75" width="2.4" height="1.1" fill="#333"/>
<rect x="277.9" y="504.45" width="2.4" height="1.1" fill="#333"/>
<defs><filter id="bl" x="-20%" y="-100%" width="140%" height="300%"><feGaussianBlur stdDeviation="0.7"/></filter><filter id="bl2" x="-20%" y="-100%" width="140%" height="300%"><feGaussianBlur stdDeviation="0.55"/></filter></defs>
<rect x="57.8" y="523.3" width="233.2" height="15.1" fill="#ebebeb"/>
<rect x="57.8" y="523.3" width="0.9" height="15.1" fill="#b0b0b0"/>
<rect x="57.8" y="541.6" width="233.2" height="20.8" fill="#dddddd"/>
<rect x="57.8" y="541.6" width="0.9" height="20.8" fill="#b0b0b0"/>
<rect x="57.8" y="570.9" width="233.2" height="18.6" fill="#d8d8d8"/>
<rect x="57.8" y="570.9" width="0.9" height="18.6" fill="#b0b0b0"/>
<rect x="57.8" y="590.8" width="233.2" height="14" fill="#e9e9e9"/>
<rect x="57.8" y="590.8" width="0.9" height="14" fill="#b0b0b0"/>
<rect x="68.4" y="527.7" width="16" height="4.4" rx="2.2" fill="#0a0a0a" opacity="0.38" filter="url(#bl)"/>
<rect x="87.4" y="527.9" width="14.8" height="4.2" rx="2.1" fill="#0a0a0a" opacity="0.5" filter="url(#bl)"/>
<rect x="105.8" y="528.2" width="14.2" height="4.4" rx="2.2" fill="#0a0a0a" opacity="0.8" filter="url(#bl)"/>
<rect x="122.6" y="528.1" width="14.4" height="4.8" rx="2.4" fill="#0a0a0a" opacity="0.95" filter="url(#bl)"/>
<rect x="139.9" y="528.6" width="14" height="4.4" rx="2.2" fill="#0a0a0a" opacity="0.9" filter="url(#bl)"/>
<rect x="155.8" y="528.6" width="13.8" height="4.6" rx="2.3" fill="#0a0a0a" opacity="0.95" filter="url(#bl)"/>
<rect x="172.7" y="529.2" width="12.2" height="3.6" rx="1.8" fill="#0a0a0a" opacity="0.5" filter="url(#bl)"/>
<rect x="189.8" y="529.3" width="12" height="3.8" rx="1.9" fill="#0a0a0a" opacity="0.55" filter="url(#bl)"/>
<rect x="206.55" y="530.5" width="11.5" height="2.2" rx="1.1" fill="#0a0a0a" opacity="0.25" filter="url(#bl)"/>
<rect x="223.05" y="530.4" width="11.5" height="2.4" rx="1.2" fill="#0a0a0a" opacity="0.3" filter="url(#bl)"/>
<rect x="239.2" y="530" width="12" height="3.2" rx="1.6" fill="#0a0a0a" opacity="0.38" filter="url(#bl)"/>
<rect x="255.1" y="529.8" width="14" height="3.6" rx="1.8" fill="#0a0a0a" opacity="0.45" filter="url(#bl)"/>
<rect x="58.2" y="532.5" width="5.6" height="3.8" rx="1.9" fill="#000" opacity="1" filter="url(#bl2)"/>
<rect x="67.6" y="550.75" width="16" height="2.5" rx="0.8" fill="#0a0a0a" opacity="0.95" filter="url(#bl2)"/>
<rect x="86" y="550.75" width="16" height="2.5" rx="0.8" fill="#0a0a0a" opacity="0.95" filter="url(#bl2)"/>
<rect x="104" y="550.75" width="16" height="2.5" rx="0.8" fill="#0a0a0a" opacity="0.95" filter="url(#bl2)"/>
<rect x="120.7" y="550.75" width="16" height="2.5" rx="0.8" fill="#0a0a0a" opacity="0.95" filter="url(#bl2)"/>
<rect x="138.1" y="551.25" width="16" height="2.5" rx="0.8" fill="#0a0a0a" opacity="0.95" filter="url(#bl2)"/>
<rect x="154.3" y="551.25" width="16" height="2.5" rx="0.8" fill="#0a0a0a" opacity="0.95" filter="url(#bl2)"/>
<rect x="170.5" y="551.25" width="16" height="2.5" rx="0.8" fill="#0a0a0a" opacity="0.95" filter="url(#bl2)"/>
<rect x="187.4" y="551.25" width="16" height="2.5" rx="0.8" fill="#0a0a0a" opacity="0.95" filter="url(#bl2)"/>
<rect x="203.5" y="551.85" width="16" height="2.5" rx="0.8" fill="#0a0a0a" opacity="0.95" filter="url(#bl2)"/>
<rect x="220.3" y="551.85" width="16" height="2.5" rx="0.8" fill="#0a0a0a" opacity="0.95" filter="url(#bl2)"/>
<rect x="237.3" y="551.85" width="16" height="2.5" rx="0.8" fill="#0a0a0a" opacity="0.95" filter="url(#bl2)"/>
<rect x="253.3" y="551.85" width="16" height="2.5" rx="0.8" fill="#0a0a0a" opacity="0.95" filter="url(#bl2)"/>
<rect x="272.5" y="551.05" width="16" height="2.5" rx="0.8" fill="#0a0a0a" opacity="0.95" filter="url(#bl2)"/>
<rect x="58.25" y="552" width="4.5" height="3.6" rx="1.8" fill="#777" opacity="0.8" filter="url(#bl)"/>
<rect x="58.3" y="559.2" width="3" height="1.6" rx="0.8" fill="#888" opacity="0.6" filter="url(#bl)"/>
<rect x="105.2" y="578.6" width="14.2" height="3.2" rx="1.6" fill="#0a0a0a" opacity="0.95" filter="url(#bl2)"/>
<rect x="122.2" y="578.1" width="14" height="4.2" rx="2.1" fill="#0a0a0a" opacity="1" filter="url(#bl2)"/>
<rect x="139.6" y="578.7" width="14" height="3" rx="1.5" fill="#0a0a0a" opacity="0.92" filter="url(#bl2)"/>
<rect x="156.1" y="578.7" width="14.2" height="3" rx="1.5" fill="#0a0a0a" opacity="0.92" filter="url(#bl2)"/>
<rect x="173" y="578.7" width="13" height="3" rx="1.5" fill="#0a0a0a" opacity="0.92" filter="url(#bl2)"/>
<rect x="189.9" y="578.7" width="12.6" height="3" rx="1.5" fill="#0a0a0a" opacity="0.95" filter="url(#bl2)"/>
<rect x="206.4" y="578.7" width="13.6" height="3" rx="1.5" fill="#0a0a0a" opacity="0.92" filter="url(#bl2)"/>
<rect x="223" y="578.8" width="13.6" height="2.8" rx="1.4" fill="#0a0a0a" opacity="0.88" filter="url(#bl2)"/>
<rect x="105.55" y="584.15" width="13.5" height="1.3" rx="0.65" fill="#555" opacity="0.45" filter="url(#bl)"/>
<rect x="122.45" y="584.15" width="13.5" height="1.3" rx="0.65" fill="#555" opacity="0.45" filter="url(#bl)"/>
<rect x="70.75" y="598.4" width="12.5" height="2" rx="1" fill="#0a0a0a" opacity="0.75" filter="url(#bl2)"/>
<rect x="86.8" y="598" width="15.4" height="2.8" rx="1.4" fill="#0a0a0a" opacity="0.95" filter="url(#bl2)"/>
<rect x="105.2" y="598.1" width="14.2" height="2.6" rx="1.3" fill="#0a0a0a" opacity="0.95" filter="url(#bl2)"/>
<rect x="122.2" y="598.1" width="14" height="2.6" rx="1.3" fill="#0a0a0a" opacity="0.95" filter="url(#bl2)"/>
<rect x="139.3" y="598.2" width="14" height="2.4" rx="1.2" fill="#0a0a0a" opacity="0.92" filter="url(#bl2)"/>
<rect x="156" y="598.2" width="14" height="2.4" rx="1.2" fill="#0a0a0a" opacity="0.92" filter="url(#bl2)"/>
<rect x="172.7" y="598.2" width="13.6" height="2.4" rx="1.2" fill="#0a0a0a" opacity="0.92" filter="url(#bl2)"/>
<rect x="189.7" y="598.2" width="13" height="2.4" rx="1.2" fill="#0a0a0a" opacity="0.9" filter="url(#bl2)"/>
<rect x="206.4" y="598.2" width="13.6" height="2.4" rx="1.2" fill="#0a0a0a" opacity="0.88" filter="url(#bl2)"/>
<rect x="223" y="598.2" width="13.6" height="2.4" rx="1.2" fill="#0a0a0a" opacity="0.88" filter="url(#bl2)"/>
<rect x="246" y="598.35" width="8" height="2.1" rx="1.05" fill="#0a0a0a" opacity="0.72" filter="url(#bl2)"/>
<path d="M257 598.5L271.4 597.1L271.6 599.6L257 600.8Z" fill="#0a0a0a" opacity="0.92" filter="url(#bl2)"/>
<rect x="275.2" y="596.6" width="9.2" height="2.6" rx="1.3" fill="#0a0a0a" opacity="0.95" filter="url(#bl2)"/>
<rect x="58.25" y="594" width="4.5" height="2.4" rx="1.2" fill="#888" opacity="0.7" filter="url(#bl)"/>
<text x="52" y="534.1" font-size="8.8" text-anchor="end" font-weight="normal" fill="#111">P-Smad5</text>
<text x="52" y="554.8" font-size="8.8" text-anchor="end" font-weight="normal" fill="#111">Smad5</text>
<text x="52" y="582.9" font-size="8.8" text-anchor="end" font-weight="normal" fill="#111">P-Stat3</text>
<text x="52" y="600.3" font-size="8.8" text-anchor="end" font-weight="normal" fill="#111">Stat3</text>
<line x1="350.8" y1="443.2" x2="350.8" y2="554" stroke="#000" stroke-width="1.45" stroke-linecap="butt"/>
<line x1="350.1" y1="553.3" x2="512.6" y2="553.3" stroke="#000" stroke-width="1.45" stroke-linecap="butt"/>
<line x1="347.6" y1="553.3" x2="350.8" y2="553.3" stroke="#111" stroke-width="1.1" stroke-linecap="butt"/>
<text x="344.4" y="556.3" font-size="8.4" text-anchor="end" font-weight="normal" fill="#111">0.0</text>
<line x1="347.6" y1="531.9" x2="350.8" y2="531.9" stroke="#111" stroke-width="1.1" stroke-linecap="butt"/>
<text x="344.4" y="534.9" font-size="8.4" text-anchor="end" font-weight="normal" fill="#111">0.5</text>
<line x1="347.6" y1="510.5" x2="350.8" y2="510.5" stroke="#111" stroke-width="1.1" stroke-linecap="butt"/>
<text x="344.4" y="513.5" font-size="8.4" text-anchor="end" font-weight="normal" fill="#111">1.0</text>
<line x1="347.6" y1="489.1" x2="350.8" y2="489.1" stroke="#111" stroke-width="1.1" stroke-linecap="butt"/>
<text x="344.4" y="492.1" font-size="8.4" text-anchor="end" font-weight="normal" fill="#111">1.5</text>
<line x1="347.6" y1="467.7" x2="350.8" y2="467.7" stroke="#111" stroke-width="1.1" stroke-linecap="butt"/>
<text x="344.4" y="470.7" font-size="8.4" text-anchor="end" font-weight="normal" fill="#111">2.0</text>
<line x1="347.6" y1="446.3" x2="350.8" y2="446.3" stroke="#111" stroke-width="1.1" stroke-linecap="butt"/>
<text x="344.4" y="449.3" font-size="8.4" text-anchor="end" font-weight="normal" fill="#111">2.5</text>
<text x="327" y="498" font-size="8.9" text-anchor="middle" font-weight="normal" transform="rotate(-90 327 498)" fill="#111">PSmad5/Smad5</text>
<line x1="360.9" y1="553.3" x2="360.9" y2="556.6" stroke="#111" stroke-width="1.1" stroke-linecap="butt"/>
<rect x="353.7" y="512.2" width="14.4" height="6.1" fill="#8e0c24"/>
<line x1="353.7" y1="515.3" x2="368.1" y2="515.3" stroke="#4a0010" stroke-width="1.5" stroke-linecap="butt"/>
<line x1="381" y1="553.3" x2="381" y2="556.6" stroke="#111" stroke-width="1.1" stroke-linecap="butt"/>
<line x1="381" y1="516.4" x2="381" y2="540.2" stroke="#111" stroke-width="1.1" stroke-linecap="butt"/>
<line x1="377.4" y1="516.4" x2="384.6" y2="516.4" stroke="#111" stroke-width="1.1" stroke-linecap="butt"/>
<line x1="377.4" y1="540.2" x2="384.6" y2="540.2" stroke="#111" stroke-width="1.1" stroke-linecap="butt"/>
<rect x="373.8" y="525.6" width="14.4" height="9.6" fill="#8282c4"/>
<line x1="373.8" y1="533.2" x2="388.2" y2="533.2" stroke="#14144a" stroke-width="1.5" stroke-linecap="butt"/>
<line x1="401.1" y1="553.3" x2="401.1" y2="556.6" stroke="#111" stroke-width="1.1" stroke-linecap="butt"/>
<line x1="401.1" y1="522.8" x2="401.1" y2="539.2" stroke="#111" stroke-width="1.1" stroke-linecap="butt"/>
<line x1="397.5" y1="522.8" x2="404.7" y2="522.8" stroke="#111" stroke-width="1.1" stroke-linecap="butt"/>
<line x1="397.5" y1="539.2" x2="404.7" y2="539.2" stroke="#111" stroke-width="1.1" stroke-linecap="butt"/>
<rect x="393.9" y="527.8" width="14.4" height="5.4" fill="#e0922c"/>
<line x1="393.9" y1="531.4" x2="408.3" y2="531.4" stroke="#2a1400" stroke-width="1.5" stroke-linecap="butt"/>
<line x1="421.3" y1="553.3" x2="421.3" y2="556.6" stroke="#111" stroke-width="1.1" stroke-linecap="butt"/>
<line x1="421.3" y1="527.8" x2="421.3" y2="552.8" stroke="#111" stroke-width="1.1" stroke-linecap="butt"/>
<line x1="417.7" y1="527.8" x2="424.9" y2="527.8" stroke="#111" stroke-width="1.1" stroke-linecap="butt"/>
<line x1="417.7" y1="552.8" x2="424.9" y2="552.8" stroke="#111" stroke-width="1.1" stroke-linecap="butt"/>
<rect x="414.1" y="536.4" width="14.4" height="11.6" fill="#5ca834"/>
<line x1="414.1" y1="542.8" x2="428.5" y2="542.8" stroke="#0c300c" stroke-width="1.5" stroke-linecap="butt"/>
<line x1="441.4" y1="553.3" x2="441.4" y2="556.6" stroke="#111" stroke-width="1.1" stroke-linecap="butt"/>
<line x1="441.4" y1="459.2" x2="441.4" y2="486.4" stroke="#111" stroke-width="1.1" stroke-linecap="butt"/>
<line x1="437.8" y1="459.2" x2="445" y2="459.2" stroke="#111" stroke-width="1.1" stroke-linecap="butt"/>
<line x1="437.8" y1="486.4" x2="445" y2="486.4" stroke="#111" stroke-width="1.1" stroke-linecap="butt"/>
<rect x="434.2" y="465" width="14.4" height="18.6" fill="#a0122c"/>
<line x1="434.2" y1="475.3" x2="448.6" y2="475.3" stroke="#4a0010" stroke-width="1.5" stroke-linecap="butt"/>
<line x1="461.5" y1="553.3" x2="461.5" y2="556.6" stroke="#111" stroke-width="1.1" stroke-linecap="butt"/>
<line x1="461.5" y1="452.5" x2="461.5" y2="484.5" stroke="#111" stroke-width="1.1" stroke-linecap="butt"/>
<line x1="457.9" y1="452.5" x2="465.1" y2="452.5" stroke="#111" stroke-width="1.1" stroke-linecap="butt"/>
<line x1="457.9" y1="484.5" x2="465.1" y2="484.5" stroke="#111" stroke-width="1.1" stroke-linecap="butt"/>
<rect x="454.3" y="461.2" width="14.4" height="10.2" fill="#8282c4"/>
<line x1="454.3" y1="464" x2="468.7" y2="464" stroke="#14144a" stroke-width="1.5" stroke-linecap="butt"/>
<line x1="481.6" y1="553.3" x2="481.6" y2="556.6" stroke="#111" stroke-width="1.1" stroke-linecap="butt"/>
<line x1="481.6" y1="496.4" x2="481.6" y2="525.5" stroke="#111" stroke-width="1.1" stroke-linecap="butt"/>
<line x1="478" y1="496.4" x2="485.2" y2="496.4" stroke="#111" stroke-width="1.1" stroke-linecap="butt"/>
<line x1="478" y1="525.5" x2="485.2" y2="525.5" stroke="#111" stroke-width="1.1" stroke-linecap="butt"/>
<rect x="474.4" y="505.2" width="14.4" height="6.4" fill="#e0922c"/>
<line x1="474.4" y1="511" x2="488.8" y2="511" stroke="#2a1400" stroke-width="1.5" stroke-linecap="butt"/>
<line x1="501.7" y1="553.3" x2="501.7" y2="556.6" stroke="#111" stroke-width="1.1" stroke-linecap="butt"/>
<line x1="501.7" y1="515.8" x2="501.7" y2="546.8" stroke="#111" stroke-width="1.1" stroke-linecap="butt"/>
<line x1="498.1" y1="515.8" x2="505.3" y2="515.8" stroke="#111" stroke-width="1.1" stroke-linecap="butt"/>
<line x1="498.1" y1="546.8" x2="505.3" y2="546.8" stroke="#111" stroke-width="1.1" stroke-linecap="butt"/>
<rect x="494.5" y="526.3" width="14.4" height="16.4" fill="#5ca834"/>
<line x1="494.5" y1="532.9" x2="508.9" y2="532.9" stroke="#0c300c" stroke-width="1.5" stroke-linecap="butt"/>
<circle cx="435.3" cy="455.2" r="1.2" fill="#161616"/>
<circle cx="439.3" cy="455.2" r="1.2" fill="#161616"/>
<circle cx="443.3" cy="455.2" r="1.2" fill="#161616"/>
<circle cx="447.3" cy="455.2" r="1.2" fill="#161616"/>
<circle cx="455.5" cy="448.3" r="1.2" fill="#161616"/>
<circle cx="459.5" cy="448.3" r="1.2" fill="#161616"/>
<circle cx="463.5" cy="448.3" r="1.2" fill="#161616"/>
<circle cx="467.5" cy="448.3" r="1.2" fill="#161616"/>
<circle cx="475.6" cy="491.9" r="1.2" fill="#161616"/>
<circle cx="479.6" cy="491.9" r="1.2" fill="#161616"/>
<circle cx="483.6" cy="491.9" r="1.2" fill="#161616"/>
<circle cx="487.6" cy="491.9" r="1.2" fill="#161616"/>
<circle cx="379" cy="513" r="1.2" fill="#161616"/>
<circle cx="383" cy="513" r="1.2" fill="#161616"/>
<circle cx="401.1" cy="519.8" r="1.2" fill="#161616"/>
<path d="M381 508.3V491.8H420.6V523.7" fill="none" stroke="#111" stroke-width="1.3"/>
<path d="M401.1 515.7V499.2H423.2V523.7" fill="none" stroke="#111" stroke-width="1.3"/>
<circle cx="401" cy="489.2" r="1.2" fill="#161616"/>
<circle cx="410" cy="497" r="1.2" fill="#161616"/>
<circle cx="414" cy="497" r="1.2" fill="#161616"/>
<path d="M461.3 442.8V436.4H481.2V488.1" fill="none" stroke="#111" stroke-width="1.3"/>
<circle cx="465.3" cy="432.9" r="1.2" fill="#161616"/>
<circle cx="469.3" cy="432.9" r="1.2" fill="#161616"/>
<circle cx="473.3" cy="432.9" r="1.2" fill="#161616"/>
<circle cx="477.3" cy="432.9" r="1.2" fill="#161616"/>
<text x="365.5" y="564.8" font-size="8.4" text-anchor="end" font-weight="normal" transform="rotate(-45 365.5 564.8)" fill="#111">M WT</text>
<text x="385.6" y="564.8" font-size="8.4" text-anchor="end" font-weight="normal" transform="rotate(-45 385.6 564.8)" fill="#111">M Bmp6 KO</text>
<text x="405.7" y="564.8" font-size="8.4" text-anchor="end" font-weight="normal" transform="rotate(-45 405.7 564.8)" fill="#111">M Hjv KO</text>
<text x="425.9" y="564.8" font-size="8.4" text-anchor="end" font-weight="normal" transform="rotate(-45 425.9 564.8)" fill="#111">M double KO</text>
<text x="446" y="564.8" font-size="8.4" text-anchor="end" font-weight="normal" transform="rotate(-45 446 564.8)" fill="#111">M WT LPS</text>
<text x="466.1" y="564.8" font-size="8.4" text-anchor="end" font-weight="normal" transform="rotate(-45 466.1 564.8)" fill="#111">M Bmp6 KO LPS</text>
<text x="486.2" y="564.8" font-size="8.4" text-anchor="end" font-weight="normal" transform="rotate(-45 486.2 564.8)" fill="#111">M Hjv KO LPS</text>
<text x="506.3" y="564.8" font-size="8.4" text-anchor="end" font-weight="normal" transform="rotate(-45 506.3 564.8)" fill="#111">M double KO LPS</text>
<rect x="0.6" y="0.6" width="518.8" height="619.6" fill="none" stroke="#000" stroke-width="1.6"/>
</svg></body></html>
